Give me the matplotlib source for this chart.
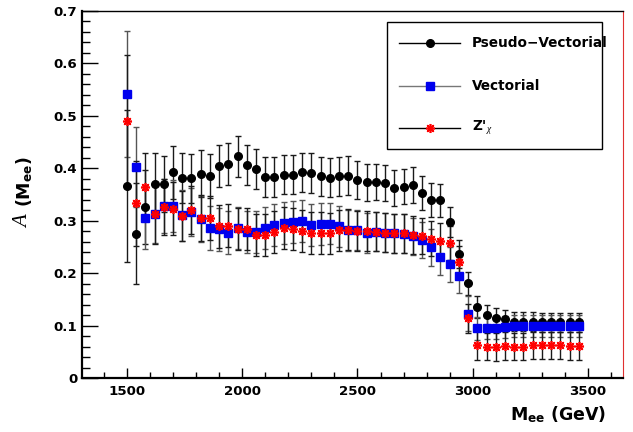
import matplotlib
matplotlib.use('Agg')
import matplotlib.pyplot as plt
from matplotlib.lines import Line2D
from matplotlib.patches import Rectangle
from matplotlib.ticker import MultipleLocator, FuncFormatter

plt.rcParams['mathtext.fontset'] = 'custom'
plt.rcParams['mathtext.it'] = 'Liberation Serif:italic'
plt.rcParams['mathtext.bf'] = 'DejaVu Sans:bold'
plt.rcParams['mathtext.rm'] = 'DejaVu Sans:bold'
plt.rcParams['font.family'] = ['DejaVu Sans']

# ---------------- data ----------------
mass = [1500, 1540, 1580, 1620, 1660, 1700, 1740, 1780, 1820, 1860,
        1900, 1940, 1980, 2020, 2060, 2100, 2140, 2180, 2220, 2260,
        2300, 2340, 2380, 2420, 2460, 2500, 2540, 2580, 2620, 2660,
        2700, 2740, 2780, 2820, 2860, 2900, 2940, 2980, 3020, 3060,
        3100, 3140, 3180, 3220, 3260, 3300, 3340, 3380, 3420, 3460]

pseudo = [0.366, 0.275, 0.326, 0.370, 0.370, 0.392, 0.381, 0.381, 0.390, 0.385,
          0.404, 0.408, 0.423, 0.406, 0.398, 0.383, 0.384, 0.388, 0.388, 0.392,
          0.391, 0.385, 0.382, 0.385, 0.386, 0.377, 0.373, 0.374, 0.372, 0.362,
          0.365, 0.368, 0.353, 0.339, 0.339, 0.298, 0.236, 0.181, 0.135, 0.120,
          0.115, 0.112, 0.107, 0.107, 0.107, 0.106, 0.106, 0.106, 0.106, 0.106]
pseudo_err = [0.145, 0.096, 0.070, 0.060, 0.054, 0.050, 0.048, 0.047, 0.044, 0.042,
              0.040, 0.040, 0.039, 0.038, 0.038, 0.038, 0.038, 0.038, 0.038, 0.038,
              0.038, 0.037, 0.037, 0.037, 0.037, 0.036, 0.035, 0.035, 0.035, 0.034,
              0.034, 0.034, 0.033, 0.032, 0.031, 0.029, 0.027, 0.022, 0.021, 0.019,
              0.018, 0.018, 0.018, 0.018, 0.018, 0.018, 0.018, 0.018, 0.018, 0.018]

vect = [0.542, 0.403, 0.306, 0.312, 0.328, 0.328, 0.310, 0.316, 0.304, 0.286,
        0.284, 0.277, 0.286, 0.279, 0.279, 0.287, 0.292, 0.296, 0.298, 0.299,
        0.292, 0.294, 0.294, 0.289, 0.282, 0.282, 0.276, 0.279, 0.277, 0.276,
        0.275, 0.270, 0.263, 0.249, 0.231, 0.217, 0.195, 0.123, 0.095, 0.095,
        0.096, 0.098, 0.099, 0.100, 0.100, 0.100, 0.100, 0.100, 0.100, 0.100]
vect_err = [0.120, 0.076, 0.060, 0.055, 0.052, 0.050, 0.048, 0.046, 0.044, 0.042,
            0.041, 0.041, 0.040, 0.040, 0.040, 0.040, 0.040, 0.040, 0.040, 0.040,
            0.040, 0.040, 0.039, 0.039, 0.039, 0.038, 0.038, 0.037, 0.037, 0.037,
            0.037, 0.036, 0.035, 0.035, 0.034, 0.033, 0.032, 0.034, 0.022, 0.021,
            0.021, 0.021, 0.021, 0.021, 0.021, 0.021, 0.021, 0.021, 0.021, 0.021]

zchi = [0.490, 0.333, 0.364, 0.312, 0.326, 0.323, 0.309, 0.321, 0.305, 0.306,
        0.289, 0.290, 0.285, 0.285, 0.273, 0.273, 0.278, 0.286, 0.285, 0.280,
        0.276, 0.276, 0.276, 0.282, 0.283, 0.280, 0.280, 0.279, 0.277, 0.276,
        0.276, 0.273, 0.271, 0.266, 0.262, 0.257, 0.222, 0.114, 0.062, 0.060,
        0.059, 0.061, 0.060, 0.060, 0.062, 0.062, 0.062, 0.062, 0.061, 0.061]
zchi_err = [0.126, 0.081, 0.065, 0.057, 0.053, 0.050, 0.048, 0.046, 0.044, 0.042,
            0.041, 0.041, 0.040, 0.040, 0.040, 0.040, 0.040, 0.040, 0.040, 0.040,
            0.040, 0.040, 0.039, 0.039, 0.039, 0.038, 0.038, 0.037, 0.037, 0.037,
            0.037, 0.036, 0.035, 0.034, 0.033, 0.032, 0.030, 0.028, 0.027, 0.026,
            0.026, 0.026, 0.026, 0.026, 0.026, 0.026, 0.026, 0.026, 0.026, 0.026]

labels = ['Pseudo\u2212Vectorial', 'Vectorial', "Z'$_{\\chi}$"]
yticks = [0, 0.1, 0.2, 0.3, 0.4, 0.5, 0.6, 0.7]
xticks = [1500, 2000, 2500, 3000, 3500]

STAR = (8, 2, 0)

# ---------------- figure ----------------
W, H = 633, 432
fig = plt.figure(figsize=(W / 100, H / 100), dpi=100)
ax = fig.add_axes([82 / W, 1 - 378 / H, (623 - 82) / W, (378 - 11) / H])

ebkw = dict(elinewidth=1.0, capsize=2.0, capthick=1.0, linestyle='none')
ax.errorbar(mass, pseudo, yerr=pseudo_err, fmt='none', ecolor='#1a1a1a', zorder=2, **ebkw)
ax.errorbar(mass, vect, yerr=vect_err, fmt='none', ecolor='#555555', zorder=2, **ebkw)
ax.errorbar(mass, zchi, yerr=zchi_err, fmt='none', ecolor='#1a1a1a', zorder=2, **ebkw)
ax.plot(mass, pseudo, linestyle='none', marker='o', ms=5.5, color='black', zorder=3)
ax.plot(mass, vect, linestyle='none', marker='s', ms=5.2, color='#0000ee', zorder=4)
ax.plot(mass, zchi, linestyle='none', marker=STAR, ms=6.5, mew=1.2, color='#ff0000', zorder=5)

ax.set_xlim(1305, 3652)
ax.set_ylim(0, 0.7)
ax.set_xticks(xticks)
ax.set_yticks(yticks)
ax.xaxis.set_minor_locator(MultipleLocator(100))
ax.yaxis.set_minor_locator(MultipleLocator(0.02))
ax.yaxis.set_major_formatter(FuncFormatter(lambda v, p: '%g' % round(v, 2)))

ax.tick_params(axis='both', which='both', direction='in', top=False, right=False,
               width=1.0, color='black')
ax.tick_params(axis='x', which='major', length=7.4, pad=5)
ax.tick_params(axis='x', which='minor', length=4.2)
ax.tick_params(axis='y', which='major', length=11.5, pad=3.5)
ax.tick_params(axis='y', which='minor', length=5.8)
for lab in ax.get_xticklabels() + ax.get_yticklabels():
    lab.set_fontweight('bold')
    lab.set_fontsize(9.6)

ax.spines['left'].set_linewidth(1.6)
ax.spines['bottom'].set_linewidth(1.6)
ax.spines['top'].set_linewidth(1.0)
ax.spines['right'].set_linewidth(0.8)
ax.spines['right'].set_color('#e03030')

ax.set_xlabel(r'M$_{\mathbf{ee}}$ (GeV)', fontsize=12.5, fontweight='bold')
ax.xaxis.label.set_ha('right')
ax.xaxis.label.set_va('center')
ax.xaxis.set_label_coords((606 - 82) / (623 - 82), (378 - 415) / (378 - 11))

# y title: bold "(M_ee)" as the axis label, italic serif "A" placed just below it
ax.set_ylabel(r'(M$_{\mathbf{ee}}$)', fontsize=12.5, fontweight='bold')
ax.yaxis.label.set_ha('center')
ax.yaxis.label.set_va('center')
ax.yaxis.set_label_coords((25 - 82) / (623 - 82), (378 - 182) / (378 - 11))
ax.text((24 - 82) / (623 - 82), (378 - 222) / (378 - 11), 'A', transform=ax.transAxes,
        rotation=90, ha='center', va='center', fontsize=15, fontstyle='italic',
        family='Liberation Serif')


# ---------------- legend (ROOT-style box) ----------------
def fx(px):
    return px / W


def fy(py):
    return 1 - py / H


fig.patches.append(Rectangle((fx(387), fy(149)), fx(602) - fx(387), fy(22) - fy(149),
                             transform=fig.transFigure, facecolor='white',
                             edgecolor='black', linewidth=1.0, zorder=10))
rows = [43, 86, 128]
styles = [dict(color='black', marker='o', ms=5.5, mfc='black', mec='black'),
          dict(color='#777777', marker='s', ms=5.2, mfc='#0000ee', mec='#0000ee'),
          dict(color='black', marker=STAR, ms=6.5, mfc='#ff0000', mec='#ff0000', mew=1.2)]
for r, st, lab in zip(rows, styles, labels):
    fig.lines.append(Line2D([fx(399), fx(460)], [fy(r), fy(r)], transform=fig.transFigure,
                            linewidth=1.0, color=st['color'], zorder=11))
    fig.lines.append(Line2D([fx(429.5)], [fy(r)], transform=fig.transFigure, linestyle='none',
                            marker=st['marker'], ms=st['ms'], mfc=st['mfc'],
                            mec=st['mec'], mew=st.get('mew', 1.0), zorder=12))
    fig.text(fx(472), fy(r), lab, fontsize=9.8, fontweight='bold', ha='left', va='center',
             zorder=12)

fig.savefig('out.png', dpi=100)
